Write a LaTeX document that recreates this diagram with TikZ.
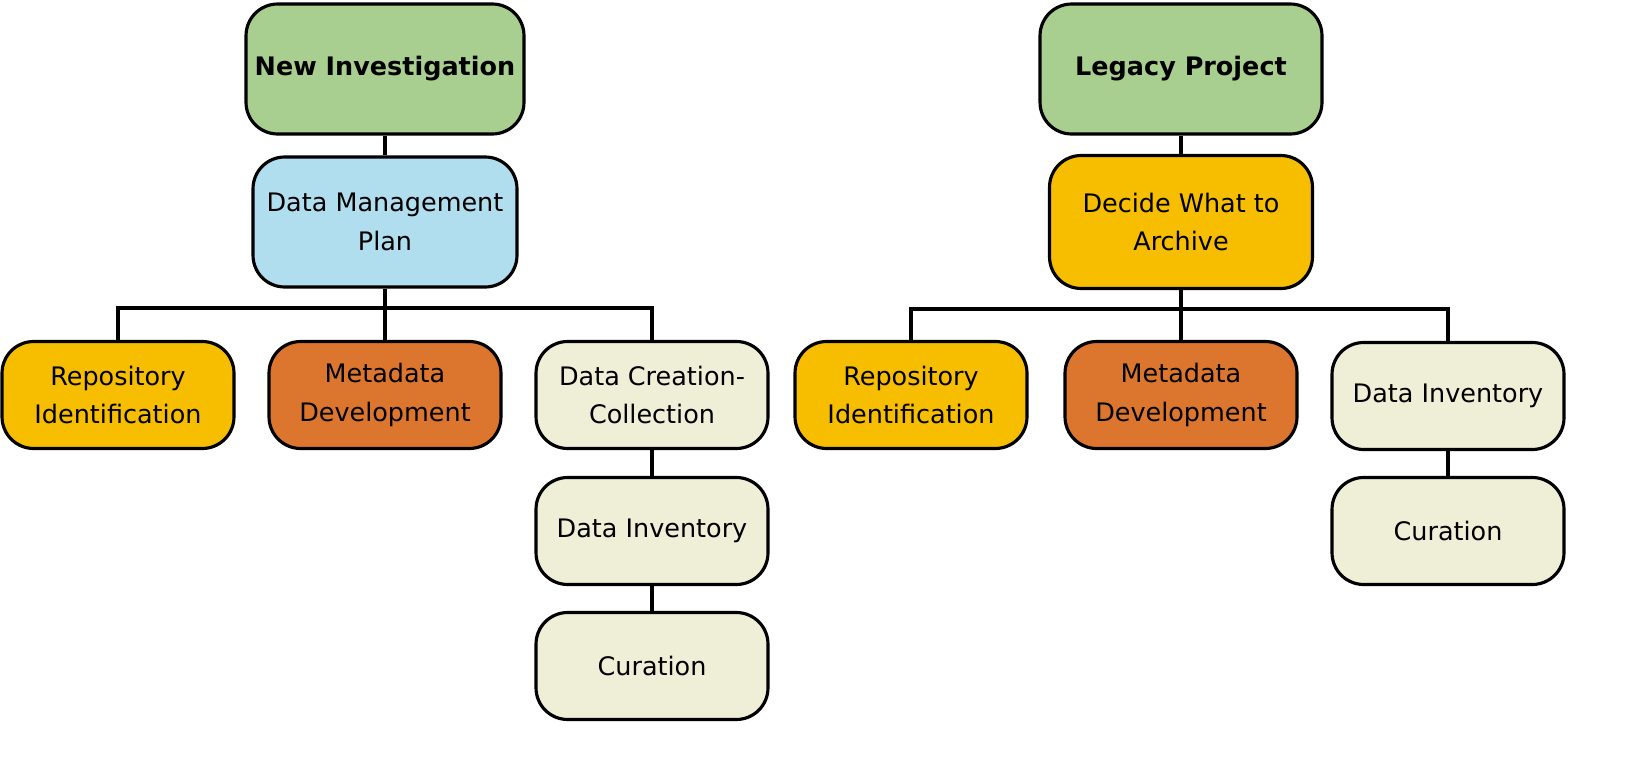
\documentclass[tikz,border=0pt]{standalone}
\usepackage{fontspec}
\setmainfont{DejaVu Sans}
\definecolor{topgreen}{HTML}{A9CF90}
\definecolor{planblue}{HTML}{B0DEEE}
\definecolor{stepyellow}{HTML}{F7BE00}
\definecolor{steporange}{HTML}{DC762F}
\definecolor{stepcream}{HTML}{EFEED6}
\tikzset{
    box/.style = {draw, line width = 1.8pt, rounded corners = 18pt, align = center,
        font = \fontsize{14.5}{22}\selectfont, inner sep = 2pt},
    big/.style = {box, minimum width = 5.56cm, minimum height = 2.6cm},
    small/.style = {box, minimum width = 4.64cm, minimum height = 2.14cm},
    link/.style = {line width = 2pt}
}
\begin{document}
\begin{tikzpicture}[x = 0.02cm, y = -0.02cm]
    \useasboundingbox (0,0) rectangle (1650,761);
    % left tree
    \node [big, fill = topgreen, font = \fontsize{14.5}{22}\bfseries] (NI) at (385,69) {New Investigation};
    \node [big, fill = planblue, minimum width = 5.28cm] (DMP) at (385,222) {Data Management\\Plan};
    \node [small, fill = stepyellow] (RI) at (118,395) {Repository\\Identification};
    \node [small, fill = steporange] (MD) at (385,395) {Metadata\\Development};
    \node [small, fill = stepcream] (DC) at (652,395) {Data Creation-\\Collection};
    \node [small, fill = stepcream] (DI) at (652,531) {Data Inventory};
    \node [small, fill = stepcream] (CU) at (652,666) {Curation};
    \coordinate (B) at (385,308);
    % right tree
    \node [big, fill = topgreen, font = \fontsize{14.5}{22}\bfseries, minimum width = 5.64cm] (LP) at (1181,69) {Legacy Project};
    \node [big, fill = stepyellow, minimum width = 5.26cm, minimum height = 2.66cm] (DA) at (1181,222) {Decide What to\\Archive};
    \node [small, fill = stepyellow] (RI2) at (911,395) {Repository\\Identification};
    \node [small, fill = steporange] (MD2) at (1181,395) {Metadata\\Development};
    \node [small, fill = stepcream] (DI2) at (1448,396) {Data Inventory};
    \node [small, fill = stepcream] (CU2) at (1448,531) {Curation};
    \coordinate (B2) at (1181,309);
    % links
    \draw [link] (NI) -- (DMP);
    \draw [link] (DMP) -- (MD);
    \draw [link] (RI.north) |- (B) -| (DC.north);
    \draw [link] (DC) -- (DI);
    \draw [link] (DI) -- (CU);
    \draw [link] (LP) -- (DA);
    \draw [link] (DA) -- (MD2);
    \draw [link] (RI2.north) |- (B2) -| (DI2.north);
    \draw [link] (DI2) -- (CU2);
\end{tikzpicture}
\end{document}
